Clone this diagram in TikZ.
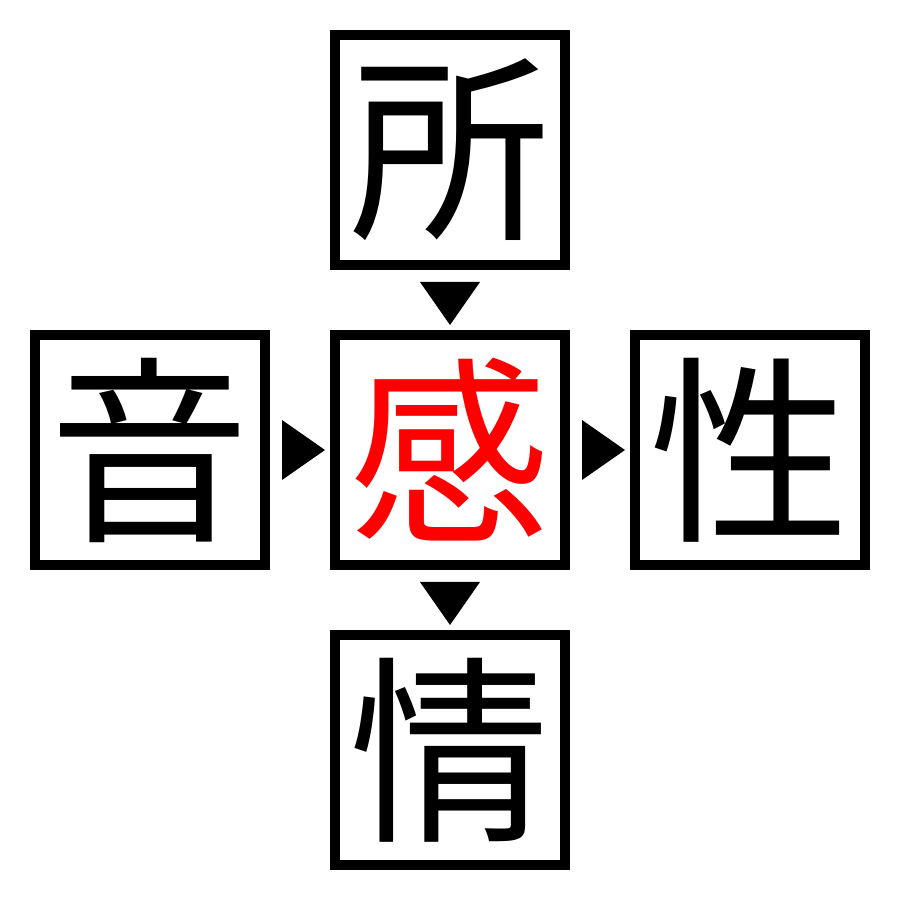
\documentclass[tikz,border=0pt]{standalone}
\usepackage{fontspec}
\newfontfamily\cjk{Noto Sans CJK JP}
\usetikzlibrary{positioning, calc}
\tikzset{charbox/.style={draw, line width=0.1cm, minimum size=2.3cm, inner sep=0pt, font=\cjk\fontsize{57}{57}\selectfont}}

\begin{document}
\begin{tikzpicture}
			\useasboundingbox (0, 0) rectangle (9, 9);
			\node (0) at (4.5, 7.5) [charbox] {所};
			\node (1) at (1.5, 4.5) [charbox] {音};
			\node (2) at (4.5, 4.5) [charbox, text=red] {感};
			\node (3) at (7.5, 4.5) [charbox] {性};
			\node (4) at (4.5, 1.5) [charbox] {情};
			
			\fill ($(0.south)+(-0.3, -0.12)$) -- ($(0.south)+(0.3, -0.12)$) -- ($(2.north)+(0, 0.05)$) -- cycle;
			\fill ($(1.east)+(0.12, 0.3)$) -- ($(1.east)+(0.12, -0.3)$) -- ($(2.west)+(-0.05, 0)$) -- cycle;
			\fill ($(2.east)+(0.12, 0.3)$) -- ($(2.east)+(0.12, -0.3)$) -- ($(3.west)+(-0.05, 0)$) -- cycle;
			\fill ($(2.south)+(-0.3, -0.12)$) -- ($(2.south)+(0.3, -0.12)$) -- ($(4.north)+(0, 0.05)$) -- cycle;
		\end{tikzpicture}
\end{document}
